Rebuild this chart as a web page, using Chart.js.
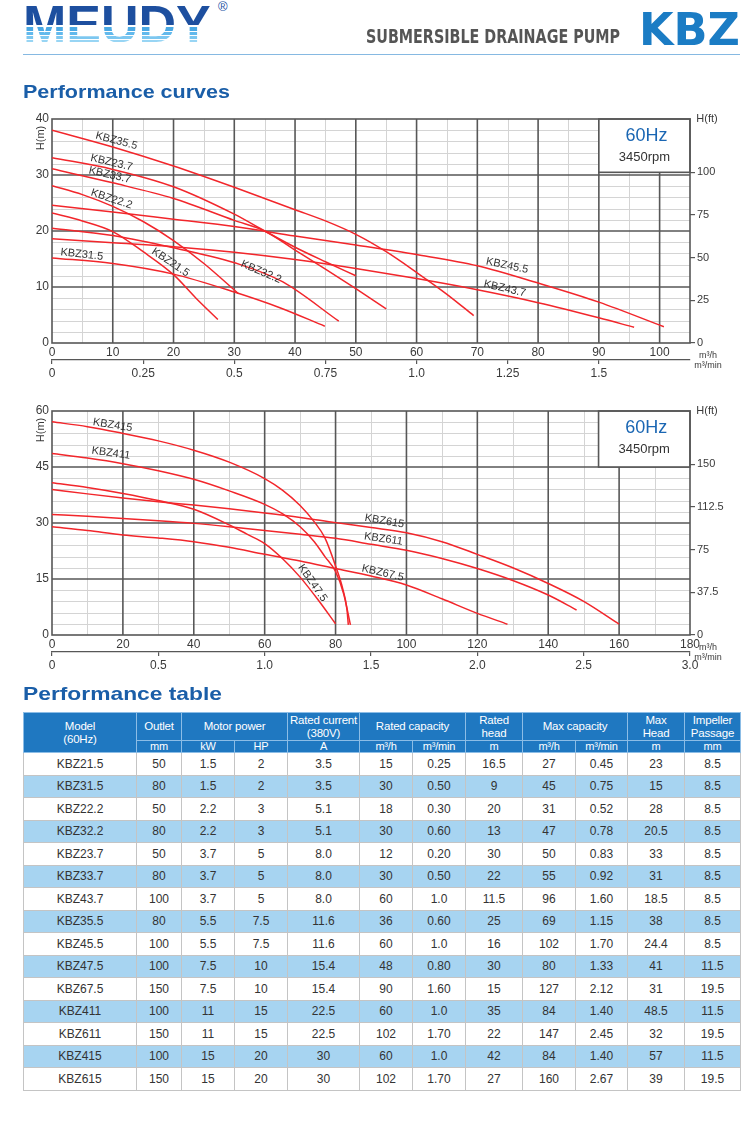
<!DOCTYPE html>
<html>
<head>
<meta charset="utf-8">
<title>KBZ submersible drainage pump - 60Hz</title>
<script src="https://cdn.jsdelivr.net/npm/chart.js@4.4.0/dist/chart.umd.min.js"></script>
<style>
    body { margin: 0; background: #fff; }
    #page { position: relative; width: 750px; height: 1124px; overflow: hidden; font-family: 'Liberation Sans', Arial, sans-serif; }
    .abs { position: absolute; white-space: nowrap; line-height: 1; transform-origin: 0 0; }
    #logo { left: 23px; top: -2px; height: 52px; font-size: 52px; font-weight: bold; color: transparent;
        -webkit-background-clip: text; background-clip: text;
        background-image: linear-gradient(to bottom, #1d4f9f 0%, #1d4f9f 52%, #fff 52%, #fff 55%, #4aa9e4 55%, #4aa9e4 63%,
            #fff 63%, #fff 66%, #62b9ec 66%, #62b9ec 71%, #fff 71%, #fff 74%, #7cc7f0 74%, #7cc7f0 79%, #fff 79%, #fff 81%,
            #98d5f4 81%, #98d5f4 85%, #fff 85%); }
    #reg { left: 218px; top: 0px; font-size: 13px; color: #1d4f9f; }
    #sub { left: 366px; top: 26px; font-size: 20px; font-weight: bold; color: #555; font-family: 'DejaVu Sans Condensed', 'DejaVu Sans', sans-serif; }
    #kbz { left: 639px; top: 8px; font-size: 44px; font-weight: bold; color: #1b7cc4; font-family: 'DejaVu Sans', sans-serif; }
    #rule { position: absolute; left: 23px; top: 54px; width: 717px; height: 0; border-top: 1.5px solid #86b9e2; }
    .section { font-size: 19px; font-weight: bold; color: #1a5ea8; }
    canvas { position: absolute; left: 0; }
    #perf { position: absolute; left: 23px; top: 712px; width: 717px; border-collapse: collapse; table-layout: fixed;
        font-size: 12px; color: #333; text-align: center; }
    #perf th { background: #1f78c1; color: #fff; font-weight: normal; padding: 0; line-height: 13px;
        border: 1px solid #8cbde6; font-size: 11.5px; letter-spacing: -0.2px; }
    #perf tr.units th { font-size: 11px; line-height: 11px; height: 11px; }
    #perf td { border: 1px solid #c4c4c4; padding: 0; height: 21.5px; }
    #perf tr.alt td { background: #a7d4f1; }
</style>
</head>
<body>
<div id="page">
    <div class="abs" id="logo">MEUDY</div>
    <div class="abs" id="reg">®</div>
    <div class="abs fit" id="sub" data-w="254">SUBMERSIBLE DRAINAGE PUMP</div>
    <div class="abs fit" id="kbz" data-w="101">KBZ</div>
    <div id="rule"></div>
    <div class="abs fit section" style="left:23px;top:82px" data-w="207">Performance curves</div>
    <canvas id="chart1" width="750" height="280" style="top:105px"></canvas>
    <canvas id="chart2" width="750" height="280" style="top:397px"></canvas>
    <div class="abs fit section" style="left:23px;top:684px" data-w="199">Performance table</div>
    <table id="perf"></table>
</div>
<script>
// ---- upper chart: flow (m3/h), head (m) ----
const kbz215 = [[0, 23.2], [5, 21.8], [10, 19.9], [15, 16.3], [20, 12.2], [23.7, 8.0], [27.3, 4.2]];
const kbz315 = [[0, 15.2], [10, 14.2], [20, 12.3], [30, 9.1], [37.5, 6.3], [44.9, 3.0]];
const kbz222 = [[0, 28.1], [5, 26.5], [10, 24.4], [15, 21.7], [20, 18.3], [25, 14.2], [30.7, 8.8]];
const kbz322 = [[0, 20.5], [10, 19.2], [20, 17.0], [31, 14.0], [38, 10.9], [47.2, 3.9]];
const kbz237 = [[0, 33.1], [10, 31.0], [20, 27.9], [30, 23.0], [35, 20.0], [40, 17.1], [45, 14.5], [50, 12.0]];
const kbz337 = [[0, 31.1], [10, 28.6], [20, 25.8], [30, 21.9], [35, 20.0], [40, 16.6], [45, 13.2], [50, 9.7], [55, 6.1]];
const kbz437 = [[0, 18.6], [10, 17.9], [20, 17.2], [30, 16.2], [40, 14.9], [50, 13.3], [60, 11.5], [70, 9.5], [80, 7.2], [90, 4.5], [95.8, 2.8]];
const kbz355 = [[0, 38.0], [10, 35.0], [20, 31.6], [30, 27.8], [40, 23.8], [45, 21.8], [50, 19.4], [55, 16.3], [60, 12.6], [65, 8.7], [69.4, 4.9]];
const kbz455 = [[0, 24.6], [10, 23.4], [20, 22.1], [30, 20.8], [40, 19.1], [50, 17.5], [60, 15.8], [70, 13.8], [80, 10.7], [90, 7.3], [100.7, 2.9]];

// ---- lower chart ----
const kbz475 = [[0, 40.8], [10, 39.5], [20, 37.9], [30, 36.0], [40, 33.7], [50, 29.5], [55, 27.0], [60, 24.5], [65, 20.5], [70, 15.5], [75, 9.5], [80, 3.0]];
const kbz411 = [[0, 48.6], [10, 47.4], [20, 45.9], [30, 44.0], [40, 41.7], [50, 38.6], [60, 35.0], [65, 32.5], [70, 29.0], [74, 25.0], [77, 21.0], [80, 17.0], [82.3, 11.0], [84.2, 2.7]];
const kbz415 = [[0, 57.1], [10, 55.8], [20, 54.0], [30, 52.0], [40, 49.5], [50, 46.3], [60, 41.9], [65, 38.8], [70, 34.7], [74, 30.3], [77, 26.0], [80, 18.5], [82, 12.5], [83.2, 7.0], [83.6, 2.7]];
const kbz615 = [[0, 39.0], [10, 37.8], [20, 36.7], [30, 35.7], [40, 34.8], [50, 33.8], [60, 32.7], [70, 31.5], [80, 30.1], [90, 28.8], [100, 27.4], [110, 25.0], [120, 21.6], [130, 18.0], [140, 13.8], [150, 9.0], [160, 2.9]];
const kbz611 = [[0, 32.3], [10, 31.8], [20, 31.2], [30, 30.6], [40, 29.9], [50, 29.0], [60, 28.0], [70, 27.0], [80, 25.9], [90, 24.3], [100, 22.7], [110, 20.5], [120, 17.8], [130, 14.6], [140, 10.7], [148, 6.7]];
const kbz675 = [[0, 29.0], [10, 28.0], [20, 26.8], [30, 26.0], [40, 25.0], [50, 23.5], [60, 21.6], [70, 19.8], [80, 17.8], [90, 15.8], [100, 13.4], [110, 9.7], [120, 5.8], [128.5, 2.9]];

// ---- axis ticks ----
const flowTicks1 = [0, 10, 20, 30, 40, 50, 60, 70, 80, 90, 100];
const minTicks1 = [0, 0.25, 0.5, 0.75, 1.0, 1.25, 1.5];
const minLabels1 = ['0', '0.25', '0.5', '0.75', '1.0', '1.25', '1.5'];
const headTicks1 = [0, 10, 20, 30, 40];
const feetTicks1 = [0, 25, 50, 75, 100];

const flowTicks2 = [0, 20, 40, 60, 80, 100, 120, 140, 160, 180];
const minTicks2 = [0, 0.5, 1.0, 1.5, 2.0, 2.5, 3.0];
const minLabels2 = ['0', '0.5', '1.0', '1.5', '2.0', '2.5', '3.0'];
const headTicks2 = [0, 15, 30, 45, 60];
const feetTicks2 = [0, 37.5, 75, 112.5, 150];

// ---- table ----
const models = ['KBZ21.5', 'KBZ31.5', 'KBZ22.2', 'KBZ32.2', 'KBZ23.7', 'KBZ33.7', 'KBZ43.7', 'KBZ35.5', 'KBZ45.5', 'KBZ47.5', 'KBZ67.5', 'KBZ411', 'KBZ611', 'KBZ415', 'KBZ615'];
const outlet = ['50', '80', '50', '80', '50', '80', '100', '80', '100', '100', '150', '100', '150', '100', '150'];
const motorKw = ['1.5', '1.5', '2.2', '2.2', '3.7', '3.7', '3.7', '5.5', '5.5', '7.5', '7.5', '11', '11', '15', '15'];
const motorHp = ['2', '2', '3', '3', '5', '5', '5', '7.5', '7.5', '10', '10', '15', '15', '20', '20'];
const ratedCurrent = ['3.5', '3.5', '5.1', '5.1', '8.0', '8.0', '8.0', '11.6', '11.6', '15.4', '15.4', '22.5', '22.5', '30', '30'];
const ratedFlow = ['15', '30', '18', '30', '12', '30', '60', '36', '60', '48', '90', '60', '102', '60', '102'];
const ratedFlowMin = ['0.25', '0.50', '0.30', '0.60', '0.20', '0.50', '1.0', '0.60', '1.0', '0.80', '1.60', '1.0', '1.70', '1.0', '1.70'];
const ratedHead = ['16.5', '9', '20', '13', '30', '22', '11.5', '25', '16', '30', '15', '35', '22', '42', '27'];
const maxFlow = ['27', '45', '31', '47', '50', '55', '96', '69', '102', '80', '127', '84', '147', '84', '160'];
const maxFlowMin = ['0.45', '0.75', '0.52', '0.78', '0.83', '0.92', '1.60', '1.15', '1.70', '1.33', '2.12', '1.40', '2.45', '1.40', '2.67'];
const maxHead = ['23', '15', '28', '20.5', '33', '31', '18.5', '38', '24.4', '41', '31', '48.5', '32', '57', '39'];
const impeller = ['8.5', '8.5', '8.5', '8.5', '8.5', '8.5', '8.5', '8.5', '8.5', '11.5', '19.5', '11.5', '19.5', '11.5', '19.5'];

const curves1 = [['KBZ21.5', kbz215], ['KBZ31.5', kbz315], ['KBZ22.2', kbz222], ['KBZ32.2', kbz322], ['KBZ23.7', kbz237],
    ['KBZ33.7', kbz337], ['KBZ43.7', kbz437], ['KBZ35.5', kbz355], ['KBZ45.5', kbz455]];
const curves2 = [['KBZ47.5', kbz475], ['KBZ411', kbz411], ['KBZ415', kbz415], ['KBZ615', kbz615], ['KBZ611', kbz611], ['KBZ67.5', kbz675]];

// curve name placement: [text, flow, head, angle in degrees]
const curveLabels1 = [['KBZ35.5', 10.6, 36.1, 15], ['KBZ23.7', 9.8, 32.2, 13], ['KBZ33.7', 9.5, 30.0, 13], ['KBZ22.2', 9.8, 25.7, 18],
    ['KBZ31.5', 4.9, 15.8, 6], ['KBZ21.5', 19.5, 14.4, 34], ['KBZ32.2', 34.4, 12.7, 23], ['KBZ45.5', 74.9, 13.8, 12], ['KBZ43.7', 74.5, 9.7, 13]];
const curveLabels2 = [['KBZ415', 17.1, 56.2, 9], ['KBZ411', 16.6, 48.7, 8], ['KBZ615', 93.8, 30.5, 10], ['KBZ611', 93.5, 25.7, 8],
    ['KBZ67.5', 93.3, 16.6, 13], ['KBZ47.5', 73.5, 13.9, 55]];

const MAJOR = '#575757';
const MINOR = '#d4d4d4';
const TEXT = '#3a3a3a';

const frameSetup = {
    chart1: { xMax: 105, yMax: 40, xMinor: 5, xMajor: 10, yMinor: 2, yMajor: 10, box: [90, 105, 30.48], labels: curveLabels1 },
    chart2: { xMax: 180, yMax: 60, xMinor: 10, xMajor: 20, yMinor: 3, yMajor: 15, box: [154.2, 180, 45], labels: curveLabels2 }
};

function isMultiple(v, step) {
    const r = v / step;
    return Math.abs(r - Math.round(r)) < 1e-6;
}

function strokeLine(ctx, x0, y0, x1, y1) {
    ctx.beginPath();
    ctx.moveTo(x0, y0);
    ctx.lineTo(x1, y1);
    ctx.stroke();
}

const framePlugin = {
    id: 'frame',
    beforeDatasetsDraw(chart) {
        const cfg = frameSetup[chart.canvas.id];
        const { ctx, chartArea: a } = chart;
        const xs = chart.scales.x, ys = chart.scales.y;
        ctx.save();
        // light grid
        ctx.strokeStyle = MINOR;
        ctx.lineWidth = 1;
        for (let v = cfg.xMinor; v < cfg.xMax; v += cfg.xMinor) {
            if (isMultiple(v, cfg.xMajor)) continue;
            const px = Math.round(xs.getPixelForValue(v)) + 0.5;
            strokeLine(ctx, px, a.top, px, a.bottom);
        }
        for (let v = cfg.yMinor; v < cfg.yMax; v += cfg.yMinor) {
            if (isMultiple(v, cfg.yMajor)) continue;
            const py = Math.round(ys.getPixelForValue(v)) + 0.5;
            strokeLine(ctx, a.left, py, a.right, py);
        }
        // dark grid
        ctx.strokeStyle = MAJOR;
        ctx.lineWidth = 1.6;
        for (let v = cfg.xMajor; v < cfg.xMax; v += cfg.xMajor) {
            const px = xs.getPixelForValue(v);
            strokeLine(ctx, px, a.top, px, a.bottom);
        }
        for (let v = cfg.yMajor; v < cfg.yMax; v += cfg.yMajor) {
            const py = ys.getPixelForValue(v);
            strokeLine(ctx, a.left, py, a.right, py);
        }
        // speed box
        const bx0 = xs.getPixelForValue(cfg.box[0]);
        const bx1 = xs.getPixelForValue(cfg.box[1]);
        const by1 = ys.getPixelForValue(cfg.box[2]);
        ctx.fillStyle = '#fff';
        ctx.fillRect(bx0, a.top, bx1 - bx0, by1 - a.top);
        ctx.strokeRect(bx0, a.top, bx1 - bx0, by1 - a.top);
        ctx.textAlign = 'center';
        ctx.textBaseline = 'middle';
        ctx.fillStyle = '#1a66b3';
        ctx.font = '18px "Liberation Sans", Arial, sans-serif';
        ctx.fillText('60Hz', (bx0 + bx1) / 2 + 2, a.top + 17);
        ctx.fillStyle = '#333';
        ctx.font = '13px "Liberation Sans", Arial, sans-serif';
        ctx.fillText('3450rpm', (bx0 + bx1) / 2, a.top + 38);
        // plot frame
        ctx.strokeStyle = MAJOR;
        ctx.lineWidth = 1.6;
        ctx.strokeRect(a.left, a.top, a.right - a.left, a.bottom - a.top);
        ctx.restore();
    },
    afterDatasetsDraw(chart) {
        const cfg = frameSetup[chart.canvas.id];
        const { ctx, chartArea: a } = chart;
        const xs = chart.scales.x, ys = chart.scales.y;
        ctx.save();
        ctx.fillStyle = '#333';
        ctx.textAlign = 'center';
        ctx.textBaseline = 'middle';
        ctx.font = '11px "Liberation Sans", Arial, sans-serif';
        cfg.labels.forEach(([text, q, h, angle]) => {
            ctx.save();
            ctx.translate(xs.getPixelForValue(q), ys.getPixelForValue(h));
            ctx.rotate(angle * Math.PI / 180);
            ctx.fillText(text, 0, 0);
            ctx.restore();
        });
        // axis names
        ctx.fillStyle = TEXT;
        ctx.save();
        ctx.translate(a.left - 11, a.top + 19);
        ctx.rotate(-Math.PI / 2);
        ctx.fillText('H(m)', 0, 0);
        ctx.restore();
        ctx.fillText('H(ft)', a.right + 17, a.top);
        ctx.font = '9px "Liberation Sans", Arial, sans-serif';
        ctx.fillText('m³/h', a.right + 18, a.bottom + 13);
        ctx.fillText('m³/min', a.right + 18, a.bottom + 23);
        ctx.restore();
    }
};

function buildChart(canvasId, curves, opts) {
    const ctx = document.getElementById(canvasId);
    return new Chart(ctx, {
        type: 'line',
        data: {
            datasets: curves.map(([name, pts]) => ({
                label: name,
                data: pts.map(p => ({ x: p[0], y: p[1] })),
                borderColor: '#f2262b',
                borderWidth: 1.5,
                pointRadius: 0,
                fill: false,
                cubicInterpolationMode: 'monotone'
            }))
        },
        options: {
            responsive: false,
            animation: false,
            layout: { padding: { top: 14, bottom: 3, left: 0, right: 0 } },
            plugins: { legend: { display: false }, tooltip: { enabled: false } },
            scales: {
                x: {
                    type: 'linear', position: 'bottom', weight: 0, min: 0, max: opts.xMax,
                    grid: { display: false, drawTicks: false },
                    border: { display: false },
                    afterBuildTicks: s => { s.ticks = opts.flowTicks.map(v => ({ value: v })); },
                    afterFit: s => { s.height = 17; },
                    ticks: { padding: 2, color: TEXT, font: { size: 12 }, maxRotation: 0, autoSkip: false }
                },
                x2: {
                    type: 'linear', position: 'bottom', weight: 1, min: 0, max: opts.xMax / 60,
                    grid: { drawOnChartArea: false, drawTicks: true, tickLength: 4, color: MAJOR, lineWidth: 1.2 },
                    border: { display: true, color: MAJOR, width: 1.3 },
                    afterBuildTicks: s => { s.ticks = opts.minTicks.map(v => ({ value: v })); },
                    afterFit: s => { s.height = 22; },
                    ticks: { padding: 2, color: TEXT, font: { size: 12 }, maxRotation: 0, autoSkip: false,
                        callback: (v, i) => opts.minLabels[i] }
                },
                y: {
                    type: 'linear', position: 'left', min: 0, max: opts.yMax,
                    grid: { display: false, drawTicks: false },
                    border: { display: false },
                    afterBuildTicks: s => { s.ticks = opts.headTicks.map(v => ({ value: v })); },
                    afterFit: s => { s.width = 52; },
                    ticks: { padding: 3, color: TEXT, font: { size: 12 }, callback: v => String(v) }
                },
                y2: {
                    type: 'linear', position: 'right', min: 0, max: opts.yMax / 0.3048,
                    grid: { drawOnChartArea: false, drawTicks: true, tickLength: 5, color: MAJOR, lineWidth: 1.2 },
                    border: { display: false },
                    afterBuildTicks: s => { s.ticks = opts.feetTicks.map(v => ({ value: v })); },
                    afterFit: s => { s.width = 60; },
                    ticks: { padding: 2, color: TEXT, font: { size: 11 }, callback: v => String(v) }
                }
            }
        },
        plugins: [framePlugin]
    });
}

Chart.defaults.font.family = '"Liberation Sans", Arial, sans-serif';

buildChart('chart1', curves1, {
    xMax: 105, yMax: 40, flowTicks: flowTicks1, minTicks: minTicks1, minLabels: minLabels1,
    headTicks: headTicks1, feetTicks: feetTicks1
});
buildChart('chart2', curves2, {
    xMax: 180, yMax: 60, flowTicks: flowTicks2, minTicks: minTicks2, minLabels: minLabels2,
    headTicks: headTicks2, feetTicks: feetTicks2
});

// ---- performance table ----
function buildTable() {
    const widths = [113, 45, 53, 53, 72, 53, 53, 57, 53, 52, 57, 56];
    let html = '<colgroup>' + widths.map(w => '<col style="width:' + w + 'px">').join('') + '</colgroup>';
    html += '<tr style="height:28px"><th rowspan="2">Model<br>(60Hz)</th><th>Outlet</th><th colspan="2">Motor power</th>' +
        '<th>Rated current<br>(380V)</th><th colspan="2">Rated capacity</th><th>Rated<br>head</th>' +
        '<th colspan="2">Max capacity</th><th>Max<br>Head</th><th>Impeller<br>Passage</th></tr>';
    const units = ['mm', 'kW', 'HP', 'A', 'm³/h', 'm³/min', 'm', 'm³/h', 'm³/min', 'm', 'mm'];
    html += '<tr class="units">' + units.map(u => '<th>' + u + '</th>').join('') + '</tr>';
    const cols = [models, outlet, motorKw, motorHp, ratedCurrent, ratedFlow, ratedFlowMin, ratedHead,
        maxFlow, maxFlowMin, maxHead, impeller];
    models.forEach((m, r) => {
        html += '<tr' + (r % 2 ? ' class="alt"' : '') + '>' + cols.map(c => '<td>' + c[r] + '</td>').join('') + '</tr>';
    });
    document.getElementById('perf').innerHTML = html;
}
buildTable();

// squeeze header texts to their measured widths
document.querySelectorAll('.fit').forEach(el => {
    const w = el.getBoundingClientRect().width;
    el.style.transform = 'scaleX(' + (el.dataset.w / w) + ')';
});
</script>
</body>
</html>
